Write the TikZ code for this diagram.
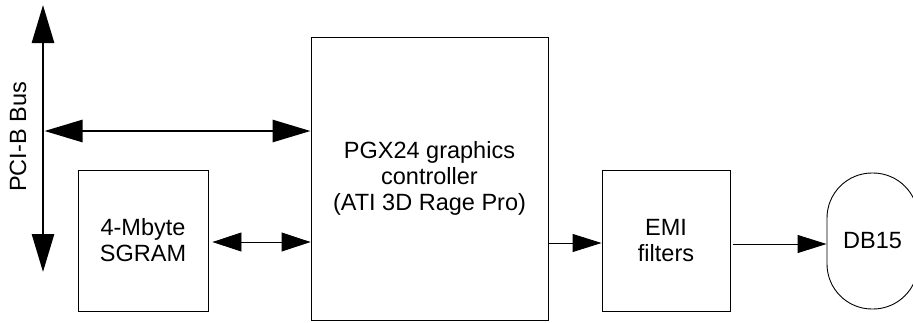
\documentclass[tikz,border=0pt]{standalone}
\usepackage{fontspec}
\setmainfont{Liberation Sans}
\usetikzlibrary{arrows.meta}
\tikzset{
  box/.style={draw=black, line width=0.9pt, rectangle, align=center, inner sep=0pt,
    font=\fontsize{23.5}{26}\selectfont},
  thickbus/.style={line width=2.8pt, {Triangle[length=38pt,width=22pt]}-{Triangle[length=38pt,width=22pt]}},
  thinboth/.style={line width=0.9pt, {Triangle[length=29pt,width=19pt]}-{Triangle[length=29pt,width=19pt]}},
  thinone/.style={line width=0.9pt, -{Triangle[length=29pt,width=18pt]}},
  lbl/.style={font=\fontsize{23.5}{26}\selectfont, inner sep=0pt}
}
\begin{document}
\begin{tikzpicture}[x=1pt,y=-1pt]
\useasboundingbox (0,0) rectangle (913,322);
\clip (0,0) rectangle (913,322);
% bus
\coordinate (busTop) at (43,5);
\coordinate (busBot) at (43,272);
\coordinate (busJ) at (44.5,131);
\draw[thickbus] (busTop) -- (busBot);
\node[lbl, rotate=90] (buslbl) at (18,137) {PCI-B Bus};
% boxes
\node[box, minimum width=237pt, minimum height=283pt] (main) at (429.5,178.5)
  {PGX24 graphics\\controller\\(ATI 3D Rage Pro)};
\node[box, minimum width=130pt, minimum height=141pt] (sgram) at (143,240.5)
  {4-Mbyte\\SGRAM};
\node[box, minimum width=128pt, minimum height=141pt] (emi) at (666,241)
  {EMI\\filters};
\node[box, minimum width=91pt, minimum height=136pt, rounded corners=45pt] (db) at (872.5,241)
  {DB15};
% connectors
\draw[thickbus] (busJ) -- (main.west |- busJ);
\draw[thinboth] ([xshift=4pt]sgram.east) ++(0,1.5) coordinate (sg) -- (main.west |- sg);
\draw[thinone] ([yshift=-2pt]main.east |- emi.west) coordinate (me) -- (emi.west |- me);
\coordinate (dbin) at ([yshift=-3pt]db.west);
\draw[thinone] ([xshift=3pt]emi.east |- dbin) -- (dbin);
\end{tikzpicture}
\end{document}
